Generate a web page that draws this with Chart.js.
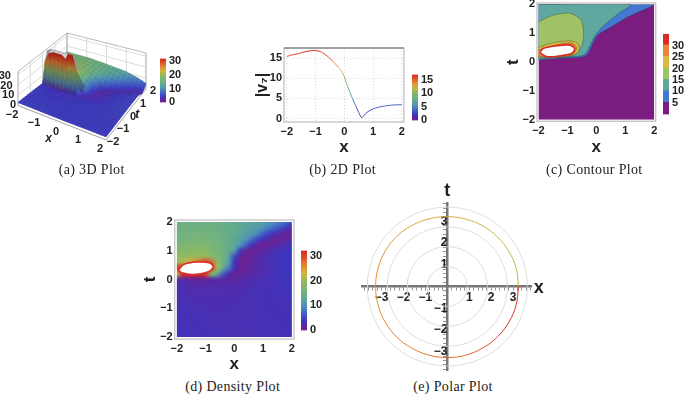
<!DOCTYPE html>
<html>
<head>
<meta charset="utf-8">
<style>
body { margin: 0; background: #fff; width: 685px; height: 395px; overflow: hidden; position: relative; }
canvas { position: absolute; }
.cap { position: absolute; transform: translate(-50%, -50%); font: 14px "Liberation Serif"; letter-spacing: .35px; color: #222; white-space: nowrap; }
</style>
<script src="https://cdn.jsdelivr.net/npm/chart.js@4"></script>
</head>
<body>
<script>
const captions = ['(a) 3D Plot', '(b) 2D Plot', '(c) Contour Plot', '(d) Density Plot', '(e) Polar Plot']
const unitTicks = [-2, -1, 0, 1, 2]

// field |v7|
const xGrid = [-2, -1.8, -1.6, -1.4, -1.2, -1, -0.8, -0.6, -0.4, -0.2, 0, 0.2, 0.4, 0.6, 0.8, 1, 1.2, 1.4, 1.6, 1.8, 2]
const tGrid = [2, 1.8, 1.6, 1.4, 1.2, 1, 0.8, 0.6, 0.4, 0.2, 0, -0.2, -0.4, -0.6, -0.8, -1, -1.2, -1.4, -1.6, -1.8, -2]
const fieldRows = [
    [14, 14, 14, 14, 14, 14, 14, 13.6, 13.2, 13, 12.6, 12.2, 11.9, 11.5, 11.2, 10.8, 9.8, 8.8, 7.8, 6.5, 5],
    [14.5, 14.6, 14.7, 14.7, 14.7, 14.7, 14.6, 14.2, 13.7, 13.2, 12.7, 12.2, 11.6, 11, 10.4, 9.5, 8, 6.5, 5, 3.5, 2],
    [14.5, 14.9, 15.2, 15.4, 15.5, 15.4, 15.1, 14.6, 14, 13.2, 12.5, 11.8, 11.1, 10.5, 9, 6, 4, 2.8, 1.8, 0.9, 0.6],
    [15, 15.6, 16, 16.2, 16.2, 16, 15.6, 15, 14.2, 13.2, 12.2, 11.2, 10, 7.5, 4.5, 3, 1.8, 0.8, 0.8, 1.4, 2],
    [16, 16.6, 17, 17.2, 17.2, 17, 16.4, 15.5, 14.5, 13.2, 12, 10, 6, 3, 1.2, 0.5, 0.9, 1.5, 2.1, 2.6, 3],
    [17.5, 18, 18.2, 18.4, 18.4, 18, 17, 16, 14.8, 12.5, 10.5, 3.5, 1, 0.7, 1.2, 1.7, 2.2, 2.6, 2.9, 3.1, 3.2],
    [18.5, 19, 19.3, 19.6, 19.7, 19.5, 18.2, 16.5, 15, 11.5, 4.5, 1.5, 0.8, 1.1, 1.6, 2, 2.4, 2.7, 3, 3.1, 3.2],
    [19, 21, 23, 25, 28, 30, 28, 19, 14, 11, 3, 1, 0.8, 1.4, 1.8, 2.2, 2.5, 2.8, 3, 3.1, 3.2],
    [31, 33, 33, 33, 33, 33, 33, 20, 13, 8, 3, 0.8, 1.2, 1.6, 2, 2.2, 2.5, 2.8, 3, 3.1, 3.2],
    [22, 31, 33, 33, 33, 30, 18, 13, 6, 2, 1.2, 1, 1.3, 1.6, 2, 2.2, 2.5, 2.8, 3, 3.1, 3.2],
    [2.2, 1.8, 1.4, 1, 1, 1.2, 1.5, 1.6, 1.6, 1.6, 1.7, 1.8, 2, 2.2, 2.4, 2.5, 2.6, 2.8, 3, 3, 3.1],
    [2.4, 2.2, 2, 1.9, 1.9, 2, 2, 2, 2, 2, 2.1, 2.2, 2.3, 2.4, 2.5, 2.6, 2.7, 2.8, 2.9, 3, 3],
    [2.5, 2.4, 2.3, 2.2, 2.2, 2.2, 2.2, 2.2, 2.2, 2.2, 2.3, 2.3, 2.4, 2.5, 2.6, 2.7, 2.7, 2.8, 2.9, 2.9, 3],
    [2.6, 2.5, 2.4, 2.4, 2.3, 2.3, 2.3, 2.3, 2.3, 2.3, 2.4, 2.4, 2.5, 2.5, 2.6, 2.6, 2.7, 2.8, 2.8, 2.9, 2.9],
    [2.7, 2.6, 2.5, 2.5, 2.4, 2.4, 2.4, 2.4, 2.4, 2.4, 2.4, 2.5, 2.5, 2.6, 2.6, 2.6, 2.7, 2.7, 2.8, 2.8, 2.9],
    [2.7, 2.7, 2.6, 2.6, 2.5, 2.5, 2.4, 2.4, 2.4, 2.4, 2.5, 2.5, 2.5, 2.6, 2.6, 2.6, 2.7, 2.7, 2.7, 2.8, 2.8],
    [2.8, 2.7, 2.7, 2.6, 2.6, 2.5, 2.5, 2.5, 2.5, 2.5, 2.5, 2.5, 2.5, 2.6, 2.6, 2.6, 2.6, 2.7, 2.7, 2.7, 2.8],
    [2.8, 2.8, 2.7, 2.7, 2.6, 2.6, 2.6, 2.5, 2.5, 2.5, 2.5, 2.5, 2.6, 2.6, 2.6, 2.6, 2.6, 2.6, 2.7, 2.7, 2.7],
    [2.9, 2.8, 2.8, 2.7, 2.7, 2.6, 2.6, 2.6, 2.5, 2.5, 2.5, 2.5, 2.6, 2.6, 2.6, 2.6, 2.6, 2.6, 2.6, 2.7, 2.7],
    [2.9, 2.9, 2.8, 2.8, 2.7, 2.7, 2.6, 2.6, 2.6, 2.5, 2.5, 2.5, 2.6, 2.6, 2.6, 2.6, 2.6, 2.6, 2.6, 2.6, 2.7],
    [2.9, 2.9, 2.9, 2.8, 2.8, 2.7, 2.7, 2.6, 2.6, 2.6, 2.5, 2.5, 2.5, 2.6, 2.6, 2.6, 2.6, 2.6, 2.6, 2.6, 2.6]
]

// 2D slice
const sliceX = [-2, -1.8, -1.6, -1.4, -1.2, -1, -0.8, -0.6, -0.4, -0.2, -0.1, 0, 0.1, 0.2, 0.3, 0.4, 0.5, 0.6, 0.7, 0.8, 1, 1.2, 1.4, 1.6, 1.8, 2]
const sliceV = [15.5, 15.9, 16.2, 16.6, 16.9, 17, 16.6, 15.6, 14.3, 12.7, 11.8, 10.4, 8.2, 6.4, 4.7, 3.1, 1.5, 0.2, 0.9, 1.6, 2.4, 2.85, 3.1, 3.3, 3.4, 3.45]

// contour band boundaries, lower edge of each band
const band5X = [-2, -1.25, -0.44, -0.27, -0.12, 0.05, 0.48, 1.06, 2, -2]
const band5T = [0.07, 0.13, 0.19, 0.33, 0.65, 0.94, 1.2, 1.55, 2, 2]
const band10X = [-2, -0.9, -0.44, -0.27, -0.03, 0.37, 0.77, 1.18, -2]
const band10T = [0.17, 0.19, 0.25, 0.48, 0.94, 1.37, 1.69, 2, 2]
const band15X = [-2, -1.48, -0.9, -0.53, -0.44, -0.5, -0.73, -1.25, -2]
const band15T = [1.4, 1.63, 1.69, 1.46, 1, 0.59, 0.27, 0.17, 0.13]
const band20X = [-2, -1.48, -0.9, -0.65, -0.59, -0.78, -1.48, -2]
const band20T = [0.51, 0.68, 0.74, 0.65, 0.42, 0.25, 0.17, 0.17]
const band25X = [-2, -1.48, -0.9, -0.7, -0.73, -1, -1.7, -2]
const band25T = [0.42, 0.58, 0.67, 0.54, 0.36, 0.21, 0.17, 0.21]
const holeX = [-1.96, -1.82, -1.36, -0.9, -0.75, -0.84, -1.25, -1.7, -1.96]
const holeT = [0.33, 0.48, 0.57, 0.59, 0.46, 0.31, 0.22, 0.19, 0.33]
const densityHoleX = [-1.95, -1.77, -1.31, -0.85, -0.73, -0.9, -1.43, -1.83, -1.95]
const densityHoleT = [0.32, 0.52, 0.61, 0.58, 0.44, 0.27, 0.17, 0.23, 0.32]
const contourColors = ['#7a1c80', '#4477d0', '#5fa8a0', '#9fc264', '#dcb93f', '#e8843a', '#dc2a26']
const contourLevels = [0, 5, 10, 15, 20, 25, 30, 35]

// polar curve, every 15 degrees
const polarAngles = [0, 15, 30, 45, 60, 75, 90, 105, 120, 135, 150, 165, 180, 195, 210, 225, 240, 255, 270, 285, 300, 315, 330, 345, 359.9]
const polarR = [3.25, 3.25, 3.24, 3.23, 3.22, 3.21, 3.21, 3.22, 3.24, 3.26, 3.27, 3.27, 3.27, 3.27, 3.27, 3.27, 3.26, 3.26, 3.26, 3.26, 3.25, 3.25, 3.25, 3.25, 3.25]
const polarV = [21, 21, 22, 22, 22, 23, 23, 23, 24, 24, 25, 25, 25, 25, 26, 26, 26, 27, 27, 28, 29, 30, 31, 31, 32]
const polarRings = [0.91, 1.83, 2.74, 3.65]
const polarTicks = [-3, -2, -1, 1, 2, 3]
const polarMinorTicks = Array.from({ length: 39 }, (_, i) => (i * 2 - 38) / 10)

const rainbowStops = [[120, 28, 134], [60, 52, 190], [68, 101, 200], [77, 146, 184], [100, 172, 140], [120, 180, 120], [145, 185, 95], [210, 182, 62], [231, 133, 50], [223, 75, 40], [217, 33, 32]]
const tickFont = { family: 'Liberation Sans', size: 11, weight: 'bold' }
const titleFont = { family: 'Liberation Sans', size: 17, weight: 'bold' }

const rainbow = f => {
    const p = Math.min(Math.max(f, 0), 1) * 10
    const i = Math.min(Math.floor(p), 9)
    const c = rainbowStops[i].map((s, k) => Math.round(s + (rainbowStops[i + 1][k] - s) * (p - i)))
    return `rgb(${c[0]},${c[1]},${c[2]})`
}
const fmt = v => String(v).replace('-', '\u2212')

const place = (l, t, r, b) => {
    const c = document.createElement('canvas')
    c.width = r - l
    c.height = b - t
    c.style.left = l + 'px'
    c.style.top = t + 'px'
    document.body.appendChild(c)
    return c
}

const frame = {
    id: 'frame',
    afterDraw(chart) {
        const { ctx, chartArea: a } = chart
        ctx.save()
        ctx.strokeStyle = '#c6c6c6'
        ctx.lineWidth = 1.4
        ctx.strokeRect(a.left, a.top, a.right - a.left, a.bottom - a.top)
        if (chart.options.plugins.frame.darkTop) {
            ctx.strokeStyle = '#6a6a6a'
            ctx.lineWidth = 1
            ctx.beginPath()
            ctx.moveTo(a.left, a.top)
            ctx.lineTo(a.right, a.top)
            ctx.stroke()
        }
        ctx.restore()
    }
}

const shapeFill = {
    id: 'shapeFill',
    beforeDatasetDraw(chart, args) {
        const ds = chart.data.datasets[args.index]
        if (!ds.shapeColor) return
        const { ctx, chartArea, scales } = chart
        const line = args.meta.dataset
        const left = scales.x.getPixelForValue(-2)
        const top = scales.y.getPixelForValue(2)
        ctx.save()
        ctx.beginPath()
        ctx.rect(left, top, scales.x.getPixelForValue(2) - left, scales.y.getPixelForValue(-2) - top)
        ctx.clip()
        line.updateControlPoints(chartArea, 'x')
        ctx.beginPath()
        line.path(ctx)
        ctx.closePath()
        ctx.fillStyle = ds.shapeColor
        ctx.fill()
        ctx.restore()
    }
}

// cells go through a one-pixel-per-cell image so the browser smooths them
const densityImage = {
    id: 'densityImage',
    beforeDatasetsDraw(chart) {
        const { ctx, scales } = chart
        const off = document.createElement('canvas')
        off.width = xGrid.length
        off.height = tGrid.length
        const o = off.getContext('2d')
        chart.data.datasets[1].data.forEach((cell, i) => {
            o.fillStyle = rainbow(cell.v / 32)
            o.fillRect(i % xGrid.length, Math.floor(i / xGrid.length), 1, 1)
        })
        const half = (xGrid[1] - xGrid[0]) / 2
        const px = scales.x.getPixelForValue.bind(scales.x)
        const py = scales.y.getPixelForValue.bind(scales.y)
        ctx.save()
        ctx.beginPath()
        ctx.rect(px(-2), py(2), px(2) - px(-2), py(-2) - py(2))
        ctx.clip()
        ctx.imageSmoothingEnabled = true
        ctx.imageSmoothingQuality = 'high'
        ctx.drawImage(off, px(-2 - half), py(2 + half), px(2 + half) - px(-2 - half), py(-2 - half) - py(2 + half))
        ctx.restore()
    }
}

const cartesian = (box, plot, o) => ({
    responsive: false,
    animation: false,
    events: [],
    layout: { padding: { top: plot[1] - box[1], right: box[2] - plot[2], left: 0, bottom: 0 } },
    plugins: { legend: { display: false }, tooltip: { enabled: false }, frame: { darkTop: !!o.darkTop } },
    scales: {
        x: {
            type: 'linear',
            min: o.xRange[0],
            max: o.xRange[1],
            afterFit: s => { s.height = box[3] - plot[3] },
            afterBuildTicks: s => { s.ticks = unitTicks.map(value => ({ value })) },
            grid: o.grid ? { color: '#dcdcdc', drawTicks: false } : { display: false, drawTicks: false },
            border: { display: false, dash: o.grid ? [1, 2] : undefined },
            ticks: { callback: fmt, font: tickFont, color: '#222', padding: 3, maxRotation: 0, autoSkip: false },
            title: { display: true, text: 'x', font: titleFont, color: '#222', padding: 0 }
        },
        y: {
            type: 'linear',
            min: o.yRange[0],
            max: o.yRange[1],
            afterFit: s => { s.width = plot[0] - box[0] },
            afterBuildTicks: s => { s.ticks = o.yTicks.map(value => ({ value })) },
            grid: o.grid ? { color: '#dcdcdc', drawTicks: false } : { display: false, drawTicks: false },
            border: { display: false, dash: o.grid ? [1, 2] : undefined },
            ticks: { callback: fmt, font: tickFont, color: '#222', padding: 2, autoSkip: false },
            title: { display: true, text: o.yTitle, font: o.yTitleFont || titleFont, color: '#222', padding: 0 }
        }
    }
})

const colorbar = (l, r, t, b, hi, ticks, levels, colors) => {
    new Chart(place(l, t - 7, r + 24, b + 7), {
        type: 'bar',
        data: {
            labels: [''],
            datasets: levels.slice(0, -1).map((lo, i) => ({
                data: [[lo, i === levels.length - 2 ? levels[i + 1] : levels[i + 1] + 0.3]],
                backgroundColor: colors(i, lo),
                borderWidth: 0,
                grouped: false,
                barPercentage: 1,
                categoryPercentage: 1,
                order: i
            }))
        },
        options: {
            responsive: false,
            animation: false,
            events: [],
            layout: { padding: { top: 7, bottom: 7 } },
            plugins: { legend: { display: false }, tooltip: { enabled: false } },
            scales: {
                x: { display: false },
                y: {
                    position: 'right',
                    min: 0,
                    max: hi,
                    afterFit: s => { s.width = 24 },
                    afterBuildTicks: s => { s.ticks = ticks.map(value => ({ value })) },
                    grid: { display: false, drawTicks: false },
                    border: { display: false },
                    ticks: { font: tickFont, color: '#222', padding: 3, autoSkip: false }
                }
            }
        }
    })
}
const barLevels = hi => Array.from({ length: hi + 1 }, (_, i) => i)

// (a) 3D plot: floor corners and box heights are the camera, in canvas pixels
const floorA = [18, 105.5], floorB = [106, 140], floorC = [146, 89], floorD = [67, 66]
const heightA = 34, heightB = 40, heightC = 36, heightD = 33
const zTop = 33
const project = (x, t, z) => {
    const u = (x + 2) / 4, v = (t + 2) / 4
    const mix = (a, b, c, d) => (1 - v) * ((1 - u) * a + u * b) + v * ((1 - u) * d + u * c)
    return {
        x: mix(floorA[0], floorB[0], floorC[0], floorD[0]),
        y: mix(floorA[1], floorB[1], floorC[1], floorD[1]) - Math.min(z, zTop) / zTop * mix(heightA, heightB, heightC, heightD)
    }
}
const surfacePoints = tGrid.flatMap((t, r) => xGrid.map((x, c) => project(x, t, fieldRows[r][c])))

const surface3d = {
    id: 'surface3d',
    beforeDatasetsDraw(chart) {
        const { ctx, scales } = chart
        const seg = (a, b, color) => {
            ctx.strokeStyle = color
            ctx.beginPath()
            ctx.moveTo(scales.x.getPixelForValue(a.x), scales.y.getPixelForValue(a.y))
            ctx.lineTo(scales.x.getPixelForValue(b.x), scales.y.getPixelForValue(b.y))
            ctx.stroke()
        }
        ctx.save()
        ctx.lineWidth = 0.8
        unitTicks.forEach(v => {
            seg(project(v, 2, 0), project(v, 2, zTop), '#d2d2d2')
            seg(project(-2, v, 0), project(-2, v, zTop), '#d2d2d2')
        })
        ;[10, 20, 30].forEach(z => {
            seg(project(-2, -2, z), project(-2, 2, z), '#d2d2d2')
            seg(project(-2, 2, z), project(2, 2, z), '#d2d2d2')
        })
        const edge = '#a8a8a8'
        seg(project(-2, -2, 0), project(-2, -2, zTop), edge)
        seg(project(2, 2, 0), project(2, 2, zTop), edge)
        seg(project(-2, 2, 0), project(-2, 2, zTop), edge)
        seg(project(-2, -2, zTop), project(-2, 2, zTop), edge)
        seg(project(-2, 2, zTop), project(2, 2, zTop), edge)
        seg(project(-2, -2, 0), project(2, -2, 0), '#888')
        seg(project(2, -2, 0), project(2, 2, 0), '#888')
        ctx.restore()
    },
    afterDatasetsDraw(chart) {
        const { ctx } = chart
        const pts = chart.getDatasetMeta(0).data
        const n = xGrid.length
        ctx.save()
        ctx.lineJoin = 'round'
        for (let r = 0; r < tGrid.length - 1; r++) {
            for (let c = 0; c < n - 1; c++) {
                const ids = [[r, c], [r, c + 1], [r + 1, c + 1], [r + 1, c]]
                const vals = ids.map(([a, b]) => fieldRows[a][b])
                const corners = ids.map(([a, b]) => pts[a * n + b])
                const lo = Math.min(...vals), hi = Math.max(...vals)
                ctx.beginPath()
                corners.forEach((p, i) => (i ? ctx.lineTo(p.x, p.y) : ctx.moveTo(p.x, p.y)))
                ctx.closePath()
                if (hi >= 33 && lo >= 19) {
                    ctx.fillStyle = '#cfcfcf'
                } else if (hi - lo < 1.5) {
                    ctx.fillStyle = rainbow((lo + hi + 2) / 64)
                } else {
                    const ys = corners.map(p => p.y)
                    const g = ctx.createLinearGradient(0, Math.min(...ys), 0, Math.max(...ys))
                    for (let k = 0; k <= 4; k++) g.addColorStop(k / 4, rainbow((hi + 1 + (lo - hi) * k / 4) / 32))
                    ctx.fillStyle = g
                }
                ctx.strokeStyle = ctx.fillStyle
                ctx.lineWidth = 0.6
                ctx.fill()
                ctx.stroke()
                if (hi - lo > 9) {
                    ctx.fillStyle = 'rgba(40,0,0,.28)'
                    ctx.fill()
                }
                ctx.strokeStyle = 'rgba(25,25,60,.25)'
                ctx.lineWidth = 0.5
                ctx.stroke()
            }
        }
        ctx.font = 'bold 11px "Liberation Sans"'
        ctx.fillStyle = '#222'
        ctx.textAlign = 'center'
        ctx.textBaseline = 'middle'
        unitTicks.forEach(v => {
            const a = project(v, -2, 0), b = project(2, v, 0)
            ctx.fillText(fmt(v), a.x - 6, a.y + 9)
            ctx.fillText(fmt(v), b.x + 7, b.y + 2)
        })
        ;[0, 10, 20, 30].forEach(z => {
            const p = project(-2, -2, z)
            ctx.textAlign = 'right'
            ctx.fillText(String(z), p.x - 2 - z * 0.17, p.y - 1 + z * 0.09)
        })
        ctx.textAlign = 'center'
        ctx.font = 'italic bold 12px "Liberation Sans"'
        ctx.fillText('x', 48.7, 138.7)
        ctx.fillText('t', 137.3, 114.3)
        ctx.restore()
    }
}

new Chart(place(0, 0, 230, 180), {
    type: 'scatter',
    data: { datasets: [{ data: surfacePoints, pointRadius: 0 }] },
    options: {
        responsive: false,
        animation: false,
        events: [],
        plugins: { legend: { display: false }, tooltip: { enabled: false } },
        scales: { x: { display: false, min: 0, max: 230 }, y: { display: false, min: 0, max: 180, reverse: true } }
    },
    plugins: [surface3d]
})
colorbar(160, 166, 55.7, 105, 32, [0, 10, 20, 30], barLevels(32), (i, lo) => rainbow((lo + 0.5) / 32))

// (b) 2D plot
new Chart(place(253, 30, 408, 158), {
    type: 'scatter',
    data: {
        datasets: [{
            data: sliceX.map((x, i) => ({ x, y: sliceV[i] })),
            showLine: true,
            pointRadius: 0,
            borderWidth: 1,
            tension: 0.2,
            segment: { borderColor: ctx => rainbow((ctx.p0.parsed.y + ctx.p1.parsed.y) / 2 / 17) }
        }]
    },
    options: cartesian([253, 30, 408, 158], [284, 48, 404, 122], {
        xRange: [-2.1, 2.07], yRange: [-0.875, 17.6], yTicks: [0, 5, 10, 15], grid: true, darkTop: true,
        yTitle: '|v\u2087|', yTitleFont: { family: 'Liberation Sans', size: 16, weight: 'bold' }
    }),
    plugins: [frame]
})
colorbar(412, 418, 72.3, 124, 17, [0, 5, 10, 15], barLevels(17), (i, lo) => rainbow((lo + 0.5) / 17))

// (c) contour plot
const shape = (xs, ts, color, n) => ({
    data: xs.map((x, i) => ({ x, y: ts[i] })),
    showLine: true,
    pointRadius: 0,
    tension: 0.3,
    borderWidth: 0.7,
    borderColor: 'rgba(40,60,50,.55)',
    shapeColor: color,
    order: n,
    clip: -1
})
new Chart(place(503, -10, 662, 158), {
    type: 'scatter',
    data: {
        datasets: [
            { ...shape([-2, 2, 2, -2, -2], [-2, -2, 2, 2, -2], contourColors[0], 9), tension: 0, borderWidth: 0 },
            shape(band5X, band5T, contourColors[1], 8),
            shape(band10X, band10T, contourColors[2], 7),
            shape(band15X, band15T, contourColors[3], 6),
            shape(band20X, band20T, contourColors[4], 5),
            shape(band25X, band25T, contourColors[5], 4),
            { ...shape(holeX, holeT, '#fff', 3), borderColor: contourColors[6], borderWidth: 1.6 }
        ]
    },
    options: cartesian([503, -10, 662, 158], [537, 3, 655.7, 121.3], { xRange: [-2.05, 2.05], yRange: [-2.05, 2.05], yTicks: unitTicks, yTitle: 't' }),
    plugins: [shapeFill, frame]
})
colorbar(663, 669, 30.7, 116.7, 35.2, [5, 10, 15, 20, 25, 30], contourLevels, i => contourColors[i])

// (d) density plot
const densityCells = tGrid.flatMap((t, r) => xGrid.map((x, c) => ({ x, y: t, v: fieldRows[r][c] })))
new Chart(place(140, 205, 298, 375), {
    type: 'scatter',
    data: {
        datasets: [
            { ...shape(densityHoleX, densityHoleT, '#fff', 1), borderColor: '#e0302a', borderWidth: 1.8, clip: 0 },
            { data: densityCells, pointRadius: 0, order: 2 }
        ]
    },
    options: cartesian([140, 205, 298, 375], [174.7, 220, 294, 339], { xRange: [-2.075, 2.075], yRange: [-2.07, 2.07], yTicks: unitTicks, yTitle: 't' }),
    plugins: [densityImage, shapeFill, frame]
})
colorbar(301, 307, 248.3, 334, 32, [0, 10, 20, 30], barLevels(32), (i, lo) => rainbow((lo + 0.5) / 32))

// (e) polar plot
const ringPoints = r => Array.from({ length: 73 }, (_, i) => ({ x: r * Math.cos(i * Math.PI / 36), y: r * Math.sin(i * Math.PI / 36) }))
const polarTitles = {
    id: 'polarTitles',
    afterDraw(chart) {
        const { ctx, scales } = chart
        ctx.save()
        ctx.font = 'bold 18px "Liberation Sans"'
        ctx.fillStyle = '#222'
        ctx.textAlign = 'center'
        ctx.textBaseline = 'middle'
        ctx.fillText('x', scales.x.right + 7, scales.y.getPixelForValue(0) + 1)
        ctx.fillText('t', scales.x.getPixelForValue(0), scales.y.top - 12)
        ctx.restore()
    }
}
const polarAxis = (min, max, padding) => ({
    type: 'linear',
    min,
    max,
    afterBuildTicks: s => { s.ticks = polarMinorTicks.map(value => ({ value })) },
    grid: { drawOnChartArea: false, color: '#777', tickLength: 3, tickWidth: 0.8 },
    border: { color: '#777', width: 2.5 },
    ticks: {
        callback: v => (polarTicks.includes(v) ? fmt(v) : ''),
        font: { ...tickFont, size: 12 },
        color: '#222',
        padding,
        maxRotation: 0,
        autoSkip: false
    }
})
new Chart(place(350, 183, 552, 378), {
    type: 'scatter',
    data: {
        datasets: [
            {
                data: polarAngles.map((a, i) => ({ x: polarR[i] * Math.cos(a * Math.PI / 180), y: polarR[i] * Math.sin(a * Math.PI / 180) })),
                showLine: true,
                pointRadius: 0,
                borderWidth: 1,
                tension: 0.4,
                segment: { borderColor: ctx => rainbow(polarV[ctx.p0DataIndex] / 32) }
            },
            ...polarRings.map(r => ({ data: ringPoints(r), showLine: true, pointRadius: 0, borderWidth: 0.8, borderColor: '#d6d6d6' }))
        ]
    },
    options: {
        responsive: false,
        animation: false,
        events: [],
        layout: { padding: { left: 12.3, right: 20.3, top: 20, bottom: 6.3 } },
        plugins: { legend: { display: false }, tooltip: { enabled: false } },
        scales: {
            x: { ...polarAxis(-3.88, 3.85, 1), position: { y: 0 } },
            y: { ...polarAxis(-3.87, 3.84, 0), position: { x: 0 } }
        }
    },
    plugins: [polarTitles]
})

const capAt = [[91.7, 170], [342.7, 170], [594.3, 170], [232.7, 387.3], [453, 387.3]]
captions.forEach((text, i) => {
    const d = document.createElement('div')
    d.className = 'cap'
    d.textContent = text
    d.style.left = capAt[i][0] + 'px'
    d.style.top = capAt[i][1] + 'px'
    document.body.appendChild(d)
})
</script>
</body>
</html>
